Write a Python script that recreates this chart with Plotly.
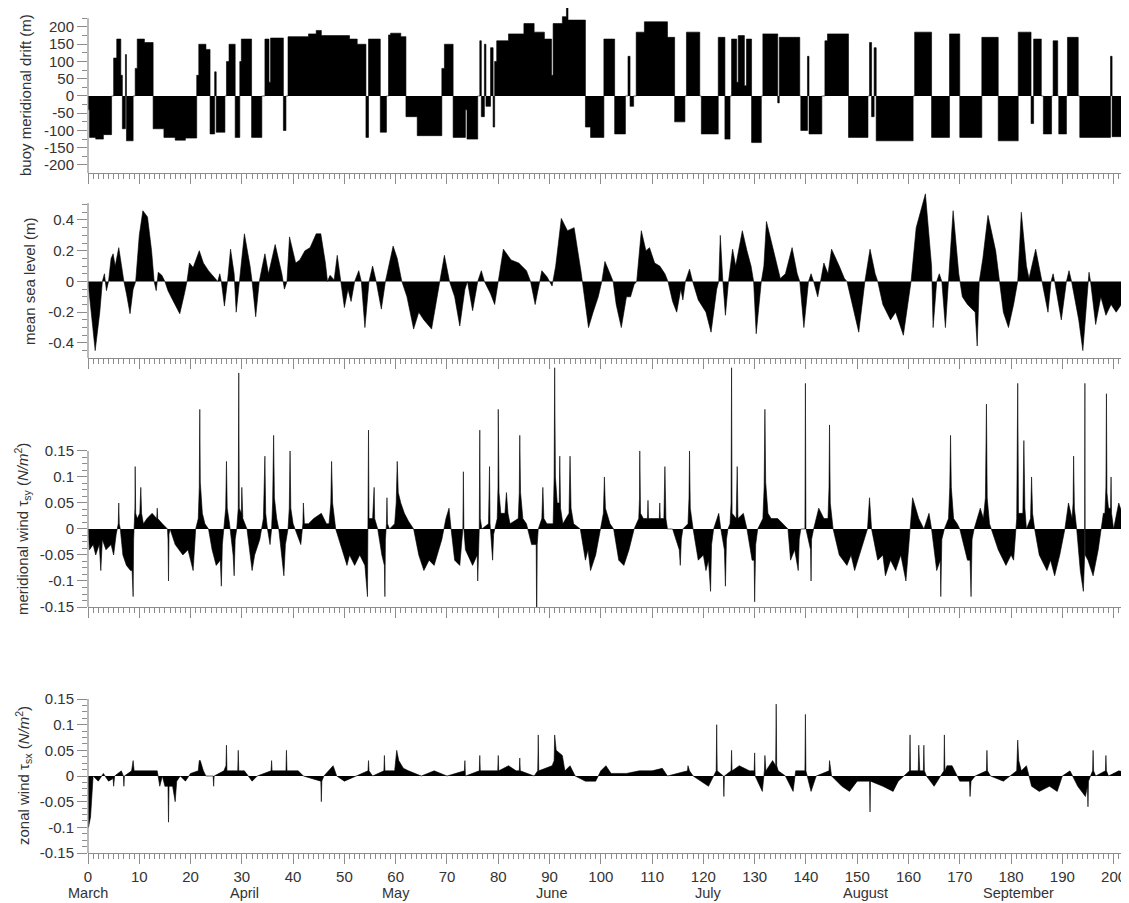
import plotly.graph_objects as go

# ---------------- data ----------------
days_range = [0, 203]

# buoy meridional drift (m): (start day, value held until next start)
drift = [
(0,-40),(0.3,-120),(1.5,-125),(3.0,-112),(4.6,0),(5.0,110),(5.6,165),(6.4,60),(6.7,-95),(7.3,120),
(7.5,-130),(8.8,0),(9.2,80),(9.6,165),(11.0,155),(12.7,-95),(14.8,-120),(17.0,-128),(19.0,-122),
(21.2,60),(21.6,150),(23.0,135),(23.8,-110),(24.7,70),(25.0,-105),(26.7,0),(27.0,100),(27.5,150),
(28.7,-120),(29.6,100),(29.9,165),(31.9,-120),(33.9,0),(34.5,165),(35.3,40),(35.6,168),(38.1,-100),
(38.6,0),(39.0,172),(43.0,180),(44.5,190),(45.5,175),(51.0,165),(52.5,150),(54.2,-120),(54.7,165),
(57.0,-105),(58.2,0),(58.6,177),(59.0,182),(61.0,172),(62.0,-60),(64.2,-115),(69.0,80),(69.5,150),
(71.2,-120),(73.6,-40),(73.9,-125),(76.0,0),(76.4,160),(76.7,-60),(77.3,150),(77.6,-30),(78.5,140),
(79.0,-90),(79.3,100),(79.7,160),(82.0,180),(85.0,210),(87.0,185),(89.0,165),(90.4,60),(90.7,210),
(92.5,230),(93.3,270),(93.6,220),(97.0,-90),(98.0,-120),(100.6,165),(102.7,-110),(104.8,0),
(105.3,115),(105.7,-30),(106.4,0),(106.9,185),(108.5,215),(113.0,170),(114.4,-75),(116.4,0),
(116.7,185),(119.3,0),(119.6,-110),(122.9,170),(124.2,-125),(125.2,0),(125.5,165),(126.5,40),
(126.8,175),(128.0,30),(128.4,165),(129.4,-135),(131.3,0),(131.6,180),(134.5,-20),(134.8,170),
(138.8,0),(139.0,-100),(140.3,115),(140.6,-110),(143.1,0),(143.7,160),(144.2,180),(148.3,-120),
(152.1,0),(152.4,155),(152.8,-60),(153.3,140),(153.7,-130),(160.9,0),(161.2,185),(164.5,-120),
(168.0,180),(170.0,-120),(174.3,170),(177.5,-130),(181.4,185),(183.9,-80),(184.4,165),(185.9,0),
(186.3,-110),(187.9,0),(188.2,160),(189.1,0),(189.3,-110),(190.8,0),(191.0,170),(193.1,0),
(193.4,-120),(199.4,115),(199.7,-118),(203.5,-118)]

# mean sea level (m): (day, value)
sea_level = [
(0,0),(0.6,-0.2),(1.4,-0.45),(2.3,-0.2),(2.8,0),(3.2,0.05),(3.6,-0.06),(4.0,0),(4.5,0.15),(4.9,0.18),
(5.3,0.1),(6.0,0.22),(6.6,0.08),(7.0,0),(7.5,-0.08),(8.2,-0.21),(8.8,-0.05),(9.3,0),(10.0,0.3),
(10.7,0.46),(11.6,0.42),(12.4,0.2),(12.9,0),(13.3,-0.06),(13.7,0.06),(14.4,0.04),(15.0,0),
(15.6,-0.06),(16.5,-0.12),(17.9,-0.21),(18.8,-0.08),(19.3,0),(19.8,0.12),(20.5,0.09),(21.7,0.2),
(22.5,0.12),(23.5,0.07),(24.5,0.03),(25.3,0),(25.7,0.05),(26.0,0),(26.6,-0.16),(27.2,0),(27.8,0.21),
(28.5,0.05),(28.9,-0.2),(29.5,0),(30.5,0.31),(31.6,0.1),(32.0,0),(32.7,-0.23),(33.4,0),(34.0,0.1),
(34.5,0.18),(35.2,0.05),(36.5,0.24),(37.8,0.05),(38.3,-0.05),(38.8,0),(39.3,0.29),(40.5,0.12),
(41.3,0.14),(42.3,0.2),(43.3,0.22),(44.5,0.31),(45.4,0.31),(46.3,0.12),(46.7,0),(47.2,0.04),
(48.0,0.01),(48.6,0.17),(49.3,0),(50.0,-0.17),(50.7,-0.05),(51.3,-0.13),(52.0,0),(52.8,0.07),
(53.3,0),(54.0,-0.3),(54.8,0),(55.5,0.1),(56.2,0),(57.2,-0.18),(58.0,0),(59.5,0.23),(60.3,0.15),
(61.2,0),(62.2,-0.1),(63.5,-0.31),(64.5,-0.2),(65.5,-0.25),(67.0,-0.31),(68.0,-0.1),(68.6,0),
(69.5,0.17),(70.5,0),(71.5,-0.1),(72.5,-0.29),(73.5,-0.05),(74.0,0),(75.0,-0.19),(76.0,0),
(76.7,0.07),(77.3,0),(78.5,-0.08),(79.3,-0.15),(80.0,0),(81.0,0.21),(82.5,0.14),(84.0,0.12),
(85.5,0.07),(86.3,0),(87.2,-0.15),(88.0,0),(88.5,0.07),(89.5,0.03),(90.5,-0.03),(91.2,0.1),
(92.3,0.41),(93.5,0.33),(94.8,0.35),(96.2,0.05),(96.8,-0.1),(97.6,-0.3),(98.5,-0.2),(99.5,-0.1),
(100.2,0),(100.8,0.13),(101.8,0.05),(102.4,0),(103.0,-0.15),(104.0,-0.3),(105.0,-0.1),(105.8,-0.1),
(106.5,-0.02),(107.0,0),(107.9,0.33),(108.8,0.2),(109.5,0.22),(110.5,0.12),(111.5,0.1),(112.5,0.05),
(113.1,0),(114.0,-0.13),(114.8,-0.2),(115.6,-0.05),(116.0,-0.12),(116.5,0),(117.3,0.08),(117.9,0),
(119.0,-0.12),(120.5,-0.2),(121.5,-0.33),(122.6,-0.05),(123.0,0),(123.3,0.3),(123.8,0),(124.3,-0.22),
(124.9,0),(125.7,0.21),(126.3,0.1),(127.6,0.33),(128.5,0.2),(129.3,0.1),(129.8,0),(130.3,-0.34),
(131.3,0),(131.8,0.1),(132.3,0.39),(134.0,0.15),(135.0,0.02),(136.0,0.05),(137.3,0.22),(138.3,0.05),
(138.8,0),(139.6,-0.3),(140.5,0),(141.0,0.05),(141.5,0),(142.3,-0.1),(142.8,0),(143.5,0.12),
(144.3,0.05),(145.0,0.21),(146.5,0.1),(147.5,0.02),(148.0,0),(149.0,-0.15),(150.3,-0.33),(151.5,0),
(152.5,0.21),(153.5,0.05),(154.0,0),(155.0,-0.15),(156.5,-0.25),(157.5,-0.2),(159.0,-0.35),
(160.5,0),(161.5,0.35),(163.3,0.57),(164.5,0.1),(164.8,-0.3),(165.5,0),(166.0,0.05),(166.5,0),
(167.2,-0.3),(167.8,0),(168.7,0.46),(169.8,0.05),(170.5,-0.1),(171.5,-0.15),(173.0,-0.2),
(173.4,-0.42),(173.8,0),(174.5,0.15),(175.5,0.43),(177.0,0.2),(177.8,0),(178.5,-0.2),(179.5,-0.3),
(180.5,-0.15),(181.3,0),(182.0,0.45),(183.0,0.1),(183.5,0.02),(184.8,0.21),(186.0,0),(187.2,-0.2),
(187.8,0),(188.2,0.05),(188.5,0),(189.8,-0.25),(190.8,0),(191.3,0.07),(191.8,0),(193.2,-0.25),
(194.0,-0.45),(194.8,-0.1),(195.2,0.06),(195.5,0),(196.5,-0.28),(197.5,-0.1),(198.5,-0.22),
(199.5,-0.15),(200.5,-0.2),(201.5,-0.15),(202.5,-0.08),(203.5,-0.1)]

# meridional wind stress tau_sy (N/m^2): (day, value)
wind_sy = [
(0,0),(0.3,-0.04),(1.0,-0.03),(1.5,-0.05),(2.2,-0.03),(2.5,-0.08),(2.8,-0.02),(3.5,-0.04),(4.5,-0.03),
(5.0,-0.05),(5.5,-0.01),(5.9,0.01),(6.0,0.05),(6.1,0.01),(6.3,0),(6.8,-0.05),(7.5,-0.07),(8.3,-0.08),
(8.6,-0.08),(8.8,-0.13),(8.9,-0.02),(9.0,0),(9.15,0.04),(9.2,0.12),(9.3,0.03),(9.6,0.02),(10.1,0.03),
(10.3,0.08),(10.45,0.03),(10.8,0.01),(11.5,0.02),(12.5,0.03),(13.4,0.02),(13.5,0.04),(13.6,0.02),
(14.5,0.01),(15.5,0),(15.6,-0.02),(15.7,-0.1),(15.8,-0.01),(16.0,0),(17.0,-0.03),(18.5,-0.05),
(19.5,-0.04),(20.5,-0.08),(21.0,0),(21.5,0.02),(21.7,0.08),(21.8,0.23),(21.9,0.09),(22.3,0.03),
(22.8,0.01),(23.5,0),(24.2,-0.04),(25.0,-0.07),(25.8,-0.06),(26.0,-0.11),(26.2,-0.03),(26.5,0),
(26.85,0.04),(27.0,0.13),(27.15,0.04),(27.6,0.01),(28.3,-0.05),(28.5,-0.09),(28.7,-0.02),(29.0,0),
(29.3,0.04),(29.4,0.3),(29.5,0.04),(29.9,0.03),(30.0,0.08),(30.2,0.02),(31.0,0),(31.5,-0.04),
(32.0,-0.08),(32.5,-0.05),(33.5,-0.02),(34.2,0.02),(34.5,0.14),(34.65,0.03),(35.0,0),(35.5,-0.03),
(35.8,0),(36.0,0.05),(36.2,0.18),(36.35,0.06),(36.8,0.02),(37.2,0),(37.8,-0.05),(38.2,-0.09),
(38.5,-0.03),(39.0,0),(39.25,0.04),(39.4,0.15),(39.55,0.04),(40.0,0.01),(41.5,-0.03),(41.9,0.01),
(42.0,0.05),(42.2,0.01),(43.0,0.01),(44.0,0.02),(45.5,0.03),(46.5,0.01),(47.0,0.01),(47.35,0.05),
(47.5,0.13),(47.7,0.05),(48.3,0),(49.5,-0.04),(50.5,-0.07),(51.0,-0.05),(52.0,-0.07),(53.0,-0.05),
(54.0,-0.07),(54.5,-0.13),(54.6,0),(54.7,0.19),(54.8,0.02),(55.5,0.02),(55.8,0.08),(55.9,0.02),
(56.5,0),(57.3,-0.05),(57.8,-0.07),(57.9,-0.13),(58.0,-0.02),(58.2,0.01),(58.3,0.06),(58.4,0.01),
(58.8,0),(59.8,0.01),(60.1,0.05),(60.3,0.13),(60.5,0.07),(61.0,0.05),(61.7,0.03),(62.5,0.015),
(63.5,0),(64.5,-0.05),(65.5,-0.08),(66.5,-0.06),(67.5,-0.07),(69.0,-0.02),(69.8,0.02),(70.4,0.04),
(70.8,0),(71.5,-0.06),(72.5,-0.07),(73.0,-0.02),(73.1,0),(73.2,0.11),(73.3,0),(73.6,-0.04),
(75.0,-0.07),(75.9,-0.05),(76.0,-0.1),(76.3,0),(76.4,0.19),(76.5,0.02),(76.8,0),(78.1,0.01),
(78.3,0.12),(78.4,0.01),(78.7,-0.04),(78.9,-0.06),(79.1,-0.01),(79.3,0),(79.8,0.02),(79.95,0.08),
(80.0,0.23),(80.15,0.07),(80.5,0.03),(81.3,0.03),(81.6,0.07),(81.9,0.03),(82.3,0.01),(83.9,0.02),
(84.1,0.07),(84.2,0.18),(84.35,0.07),(84.8,0.02),(85.5,0.01),(86.5,-0.03),(87.4,-0.03),(87.5,-0.2),
(87.6,-0.03),(87.8,0),(88.5,0.02),(88.7,0.08),(88.9,0.02),(89.5,0.01),(90.7,0.01),(90.9,0.1),
(91.0,0.31),(91.15,0.1),(91.5,0.05),(91.9,0.05),(92.0,0.14),(92.15,0.04),(92.6,0.01),(93.8,0.03),
(94.0,0.14),(94.2,0.04),(94.7,0.01),(96.0,0),(97.0,-0.06),(97.5,-0.04),(98.0,-0.08),(99.0,-0.05),
(100.0,0),(100.5,0.03),(100.7,0.1),(100.9,0.04),(101.8,0.01),(102.5,0),(103.5,-0.06),(104.5,-0.07),
(105.5,-0.04),(106.5,0),(107.4,0.02),(107.55,0.06),(107.6,0.15),(107.75,0.03),(108.3,0.02),
(109.1,0.02),(109.2,0.055),(109.3,0.02),(111.4,0.02),(111.5,0.05),(111.6,0.02),(112.3,0.02),
(112.5,0.12),(112.7,0.02),(113.0,0),(114.0,0),(115.3,-0.04),(115.5,-0.07),(115.7,-0.02),(116.0,0),
(117.0,0.01),(117.2,0.06),(117.3,0.15),(117.45,0.04),(118.0,0),(119.0,-0.06),(120.0,-0.05),
(120.5,-0.08),(121.0,-0.06),(121.4,-0.12),(121.6,-0.03),(122.0,0),(123.0,0.03),(123.4,0),
(124.1,-0.04),(124.3,-0.11),(124.5,-0.02),(124.8,0),(125.2,0.01),(125.4,0.05),(125.5,0.31),
(125.6,0.03),(126.4,0.02),(126.6,0.12),(126.75,0.02),(127.8,0.03),(128.5,0),(129.5,-0.06),
(129.9,-0.06),(130.0,-0.14),(130.2,-0.03),(130.6,0),(131.6,0.02),(131.85,0.08),(132.0,0.23),
(132.15,0.09),(132.6,0.03),(133.2,0.02),(134.5,0.02),(135.5,0.01),(136.5,0),(137.0,-0.06),
(137.8,-0.04),(138.5,-0.08),(138.7,-0.02),(139.0,0),(139.8,0),(139.9,0.28),(140.0,0),(140.9,-0.04),
(141.0,-0.1),(141.1,-0.02),(141.5,0),(142.5,0.04),(143.5,0.02),(144.3,0.02),(144.5,0.08),(144.6,0.2),
(144.75,0.05),(145.3,0),(146.5,-0.05),(148.0,-0.07),(148.8,-0.05),(149.5,-0.08),(151.0,-0.03),
(152.0,0),(152.4,0.06),(152.8,0),(154.0,-0.06),(155.0,-0.05),(155.5,-0.09),(156.5,-0.06),
(157.5,-0.08),(158.5,-0.05),(159.5,-0.1),(160.3,0),(160.8,0.06),(162.0,0.02),(163.0,0),(164.0,0.03),
(164.5,0),(165.5,-0.08),(166.2,-0.06),(166.3,-0.13),(166.5,-0.02),(167.0,0),(167.8,0.02),
(168.05,0.08),(168.2,0.18),(168.35,0.08),(168.8,0.02),(169.5,0.01),(170.0,0),(171.5,-0.06),
(172.0,-0.06),(172.2,-0.13),(172.4,-0.02),(172.8,0),(174.0,0.04),(174.6,0.02),(175.0,0.06),
(175.2,0.24),(175.35,0.06),(175.8,0.01),(177.5,-0.04),(179.0,-0.07),(180.0,-0.05),(180.5,-0.06),
(181.0,0),(181.1,0.02),(181.3,0.28),(181.45,0.03),(182.3,0.03),(182.5,0.17),(182.7,0.04),(183.0,0),
(183.8,0.02),(184.0,0.1),(184.2,0.03),(184.6,0),(185.5,-0.05),(187.0,-0.08),(187.7,-0.06),
(188.5,-0.09),(189.5,-0.05),(190.5,0),(191.2,0.05),(191.9,0.02),(192.1,0.05),(192.2,0.14),
(192.35,0.04),(192.8,0),(193.5,-0.08),(194.1,-0.12),(194.35,-0.05),(194.4,0.28),(194.45,-0.05),
(195.0,-0.06),(196.0,-0.09),(197.0,-0.04),(197.5,0),(198.0,0.03),(198.3,0.03),(198.5,0.08),
(198.6,0.26),(198.7,0.07),(199.0,0.04),(199.4,0.04),(199.5,0.1),(199.6,0.03),(200.0,0),(201.0,0.05),
(202.0,0.02),(203.0,0.06),(203.5,0.09)]

# zonal wind stress tau_sx (N/m^2): (day, value)
wind_sx = [
(0,0),(0.1,-0.1),(0.5,-0.08),(0.8,-0.03),(1.0,0),(2.0,-0.01),(3.0,0.005),(4.0,-0.01),(4.9,-0.005),
(5.0,-0.02),(5.2,0),(6.5,0.01),(6.9,0),(7.0,-0.02),(7.1,0),(8.5,0.01),(8.8,0.03),(9.0,0.01),
(10.5,0.01),(12.0,0.01),(13.5,0.01),(14.0,-0.02),(14.5,0),(15.0,-0.02),(15.6,-0.02),(15.7,-0.09),
(15.8,-0.02),(16.5,-0.02),(17.0,-0.05),(17.3,-0.01),(18.0,0),(19.0,-0.01),(20.0,0.005),(21.5,0.01),
(21.7,0.03),(21.9,0.03),(22.5,0.01),(23.0,0),(24.4,0),(24.5,-0.02),(24.6,0),(26.5,0.01),(26.9,0.02),
(27.0,0.06),(27.1,0.01),(28.0,0.01),(29.2,0.01),(29.3,0.05),(29.4,0.01),(30.5,0.01),(32.0,-0.01),
(33.0,0),(35.7,0.01),(35.8,0.03),(35.9,0.01),(38.6,0.01),(38.7,0.05),(38.8,0.01),(41.0,0.01),
(42.0,0),(45.4,-0.01),(45.5,-0.05),(45.6,-0.01),(46.0,0),(47.8,0.02),(48.5,0),(50.0,-0.01),
(54.6,0.01),(54.7,0.03),(54.8,0.01),(55.5,0),(57.7,0.01),(57.8,0.04),(57.9,0.01),(59.8,0.01),
(60.2,0.05),(60.6,0.03),(61.5,0.015),(62.5,0.01),(65.0,0),(67.5,0.01),(70.0,0),(73.4,0.01),
(73.5,0.03),(73.6,0),(76.3,0.01),(76.4,0.04),(76.5,0.01),(79.9,0.01),(80.0,0.04),(80.1,0.01),
(82.0,0.02),(83.5,0.01),(84.1,0.01),(84.2,0.035),(84.3,0.01),(87.0,0),(87.7,0.01),(87.8,0.08),
(87.9,0.01),(90.5,0.02),(90.9,0.03),(91.0,0.08),(91.3,0.05),(92.5,0.04),(93.0,0.01),(94.0,0.02),
(95.0,0),(97.0,-0.01),(99.0,-0.01),(100.0,0.01),(101.0,0.02),(102.0,0.005),(105.0,0.005),
(107.5,0.01),(110.0,0.01),(112.0,0.015),(113.0,0),(116.9,0.01),(117.0,0.02),(117.3,0.01),(118.0,0),
(121.0,-0.02),(122.5,0.01),(122.6,0.1),(122.7,0.01),(123.9,0),(124.0,-0.04),(124.1,0),(125.4,0.01),
(125.5,0.05),(125.6,0.01),(127.0,0.02),(129.0,0.01),(129.9,0.01),(130.0,0.045),(130.1,0),
(131.5,-0.03),(131.9,0.01),(132.0,0.04),(132.2,0.01),(133.5,0.03),(134.1,0.02),(134.2,0.14),
(134.3,0.02),(134.6,0.01),(136.0,0),(137.5,-0.03),(138.0,0.01),(139.8,0.01),(139.9,0.12),(140.0,0.01),
(141.0,-0.03),(142.0,0),(144.5,0.01),(144.6,0.03),(144.8,0.01),(145.0,0),(147.0,-0.02),(148.5,-0.03),
(150.0,-0.01),(152.4,-0.01),(152.5,-0.07),(152.6,-0.01),(155.0,-0.02),(157.0,-0.03),(158.0,-0.01),
(160.2,0.01),(160.3,0.08),(160.4,0.01),(161.9,0.01),(162.0,0.06),(162.2,0.01),(162.9,0.01),
(163.0,0.06),(163.1,0.01),(163.5,0),(165.0,-0.02),(166.9,0.01),(167.0,0.08),(167.1,0.01),(167.5,0.02),
(168.5,0.02),(170.0,-0.01),(171.9,-0.01),(172.0,-0.04),(172.2,-0.01),(173.0,0),(175.2,0.01),
(175.3,0.05),(175.4,0.01),(176.0,0),(178.5,-0.01),(181.1,0.01),(181.3,0.07),(181.5,0.03),(182.0,0.01),
(183.0,0.02),(184.0,-0.02),(185.5,-0.03),(187.5,-0.02),(189.0,-0.03),(190.0,0),(191.5,0.01),
(193.0,-0.02),(194.5,-0.04),(194.9,-0.02),(195.0,-0.06),(195.1,-0.01),(195.5,0),(195.9,0.01),
(196.0,0.05),(196.1,0.01),(196.5,0),(198.4,0.01),(198.5,0.04),(198.6,0.01),(199.0,0),(201.0,0.01),
(203.5,0.005)]

x_ticks = [0, 10, 20, 30, 40, 50, 60, 70, 80, 90, 100, 110, 120, 130, 140, 150, 160, 170, 180, 190, 200]
month_names = ["March", "April", "May", "June", "July", "August", "September"]
month_label_days = [0, 30.6, 60, 90.3, 121, 151.7, 181.5]

drift_ticks = [200, 150, 100, 50, 0, -50, -100, -150, -200]
drift_minor = [225, 175, 125, 75, 25, -25, -75, -125, -175, -225]
sea_ticks = [0.4, 0.2, 0, -0.2, -0.4]
sea_minor = [0.5, 0.45, 0.35, 0.3, 0.25, 0.15, 0.1, 0.05, -0.05, -0.1, -0.15, -0.25, -0.3, -0.35, -0.45, -0.5]
wind_ticks = [0.15, 0.1, 0.05, 0, -0.05, -0.1, -0.15]
wind_minor = [0.1375, 0.125, 0.1125, 0.0875, 0.075, 0.0625, 0.0375, 0.025, 0.0125,
              -0.0125, -0.025, -0.0375, -0.0625, -0.075, -0.0875, -0.1125, -0.125, -0.1375]

titles = ["buoy meridional drift (m)", "mean sea level (m)",
          "meridional wind τ<sub>sy</sub> (<i>N/m</i><sup>2</sup>)",
          "zonal wind τ<sub>sx</sub> (<i>N/m</i><sup>2</sup>)"]

# ---------------- figure ----------------
AX = "#8c8c8c"
TXT = "#333333"
FONT = "Liberation Sans, Arial, Helvetica, sans-serif"

# the page body adds an 8 px margin, so the figure is 8 px smaller and
# all positions below are given in window pixels and shifted by 8 px
OFF = 8.0
FIG_W, FIG_H = 1129 - OFF, 903 - OFF
LEFT = 88 - OFF
W_PLOT = FIG_W - LEFT

fig = go.Figure()
series = [(drift, "hv", "x", "y"), (sea_level, "linear", "x2", "y2"),
          (wind_sy, "linear", "x3", "y3"), (wind_sx, "linear", "x4", "y4")]
for data, shape, xa, ya in series:
    fig.add_trace(go.Scatter(
        x=[p[0] for p in data], y=[p[1] for p in data],
        mode="lines", line=dict(color="black", width=0.6, shape=shape),
        fill="tozeroy", fillcolor="black", xaxis=xa, yaxis=ya,
        showlegend=False, hoverinfo="skip"))

def py2paper(py):
    return (903.0 - py) / FIG_H

def dom(top_px, bot_px):
    return [py2paper(bot_px), min(1.0, py2paper(top_px))]

panels = [
    dict(dom=dom(8, 173), rng=[-223.2, 255.0], major=drift_ticks, minor=drift_minor, line=[-223.2, 225]),
    dict(dom=dom(186, 358), rng=[-0.498, 0.621], major=sea_ticks, minor=sea_minor, line=[-0.498, 0.51]),
    dict(dom=dom(362, 607), rng=[-0.15, 0.321], major=wind_ticks, minor=wind_minor, line=[-0.15, 0.15]),
    dict(dom=dom(699, 853), rng=[-0.15, 0.15], major=wind_ticks, minor=wind_minor, line=[-0.15, 0.15]),
]

layout = dict(
    width=FIG_W, height=FIG_H, margin=dict(l=LEFT, r=0, t=0, b=0, autoexpand=False),
    paper_bgcolor="white", plot_bgcolor="white",
    font=dict(family=FONT, color=TXT, size=15),
    showlegend=False,
)
shapes = []
annotations = []
for i, p in enumerate(panels):
    n = "" if i == 0 else str(i + 1)
    layout["xaxis" + n] = dict(
        domain=[0, 1], range=days_range, anchor="y" + n, automargin=False,
        showline=True, linecolor=AX, linewidth=1.2, mirror=False,
        ticks="outside", ticklen=10, tickwidth=1.2, tickcolor=AX,
        tickmode="array", tickvals=x_ticks, ticktext=[str(v) for v in x_ticks],
        minor=dict(dtick=1, tick0=0, ticks="outside", ticklen=5, tickwidth=1, tickcolor=AX),
        showgrid=False, zeroline=False, showticklabels=(i == 3),
        tickfont=dict(size=15, color=TXT, family=FONT),
    )
    layout["yaxis" + n] = dict(
        domain=p["dom"], range=p["rng"], anchor="x" + n, automargin=False,
        showline=False, ticks="outside", ticklen=10, tickwidth=1.2, tickcolor=AX,
        tickmode="array", tickvals=p["major"], ticktext=["%g" % v for v in p["major"]],
        minor=dict(tickmode="array", tickvals=p["minor"], ticks="outside", ticklen=5,
                   tickwidth=1, tickcolor=AX),
        showgrid=False, zeroline=False,
        tickfont=dict(size=15, color=TXT, family=FONT),
    )
    shapes.append(dict(type="line", xref="paper", yref="y" + n, x0=0, x1=0,
                       y0=p["line"][0], y1=p["line"][1],
                       line=dict(color=AX, width=1.2), layer="above"))

title_px = [(26, 95), (30, 281), (22, 529), (23, 776)]
for (px, pyy), t in zip(title_px, titles):
    annotations.append(dict(text=t, xref="paper", yref="paper",
                            x=(px - 88) / W_PLOT, y=py2paper(pyy),
                            xanchor="center", yanchor="middle", textangle=-90,
                            showarrow=False, font=dict(size=15, color=TXT, family=FONT)))
for m, d in zip(month_names, month_label_days):
    annotations.append(dict(text=m, xref="x4", yref="paper", x=d, y=py2paper(893),
                            xanchor="center", yanchor="middle", showarrow=False,
                            font=dict(size=14.5, color=TXT, family=FONT)))

layout["shapes"] = shapes
layout["annotations"] = annotations
fig.update_layout(**layout)
fig.write_html("out.html")
